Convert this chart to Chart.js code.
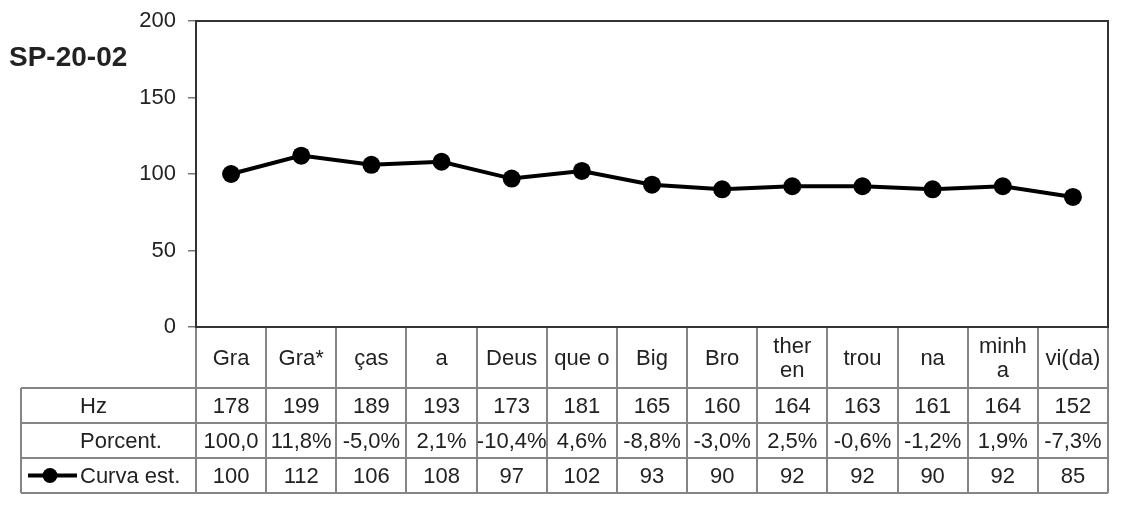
<!DOCTYPE html>
<html>
<head>
<meta charset="utf-8">
<script src="https://cdn.jsdelivr.net/npm/chart.js@4/dist/chart.umd.min.js"></script>
<style>
  html, body { margin: 0; padding: 0; background: #fff; }
  #wrap { width: 1121px; height: 510px; }
</style>
</head>
<body>
<div id="wrap"><canvas id="c" width="1121" height="510"></canvas></div>
<script>
const chartTitle = 'SP-20-02';
const categories = ['Gra', 'Gra*', 'ças', 'a', 'Deus', 'que o', 'Big', 'Bro', ['ther', 'en'], 'trou', 'na', ['minh', 'a'], 'vi(da)'];
const hzValues = [178, 199, 189, 193, 173, 181, 165, 160, 164, 163, 161, 164, 152];
const porcentValues = ['100,0', '11,8%', '-5,0%', '2,1%', '-10,4%', '4,6%', '-8,8%', '-3,0%', '2,5%', '-0,6%', '-1,2%', '1,9%', '-7,3%'];
const curvaValues = [100, 112, 106, 108, 97, 102, 93, 90, 92, 92, 90, 92, 85];
const rowLabels = ['Hz', 'Porcent.', 'Curva est.'];
const yMin = 0, yMax = 200, yStep = 50;

const FONT = '"Liberation Sans", Arial, sans-serif';
const TEXT = '#222';
const GRID = '#858585';
const FS = 22;

const tablePlugin = {
  id: 'tablePlugin',
  afterDraw(chart) {
    const ctx = chart.ctx;
    const a = chart.chartArea;
    const xs = chart.scales.x;
    const n = categories.length;
    const colW = (a.right - a.left) / n;
    const catTop = a.bottom;
    const rowTop = catTop + 61;
    const rowH = 35;
    const tableLeft = 21;
    ctx.save();

    // title
    ctx.fillStyle = TEXT;
    ctx.font = 'bold 28px ' + FONT;
    ctx.textAlign = 'left';
    ctx.textBaseline = 'middle';
    ctx.fillText(chartTitle, 9, 58);

    // grid lines of table
    ctx.strokeStyle = GRID;
    ctx.lineWidth = 2;
    ctx.beginPath();
    for (let i = 0; i <= n; i++) {
      const x = Math.round(a.left + i * colW);
      ctx.moveTo(x, catTop);
      ctx.lineTo(x, rowTop + 3 * rowH);
    }
    ctx.moveTo(tableLeft, rowTop);
    ctx.lineTo(tableLeft, rowTop + 3 * rowH);
    for (let r = 0; r <= 3; r++) {
      const y = rowTop + r * rowH;
      ctx.moveTo(tableLeft, y);
      ctx.lineTo(a.right, y);
    }
    ctx.stroke();

    // category labels
    ctx.fillStyle = TEXT;
    ctx.font = FS + 'px ' + FONT;
    ctx.textAlign = 'center';
    ctx.textBaseline = 'middle';
    const catMid = (catTop + rowTop) / 2 + 1;
    categories.forEach((c, i) => {
      const x = xs.getPixelForValue(i);
      if (Array.isArray(c)) {
        ctx.fillText(c[0], x, catMid - 12);
        ctx.fillText(c[1], x, catMid + 12);
      } else {
        ctx.fillText(c, x, catMid);
      }
    });

    // rows
    const rows = [hzValues, porcentValues, curvaValues];
    rows.forEach((vals, r) => {
      const y = rowTop + r * rowH + rowH / 2 + 1;
      vals.forEach((v, i) => {
        ctx.fillText(String(v), xs.getPixelForValue(i), y);
      });
    });

    // row labels
    ctx.textAlign = 'left';
    rowLabels.forEach((l, r) => {
      ctx.fillText(l, 80, rowTop + r * rowH + rowH / 2 + 1);
    });

    // legend key
    const ly = rowTop + 2 * rowH + rowH / 2;
    ctx.strokeStyle = '#000';
    ctx.lineWidth = 4;
    ctx.beginPath();
    ctx.moveTo(28, ly);
    ctx.lineTo(77, ly);
    ctx.stroke();
    ctx.fillStyle = '#000';
    ctx.beginPath();
    ctx.arc(50, ly, 7.5, 0, Math.PI * 2);
    ctx.fill();

    // plot frame
    ctx.strokeStyle = '#333';
    ctx.lineWidth = 2;
    ctx.strokeRect(a.left, a.top, a.right - a.left, a.bottom - a.top);
    ctx.restore();
  }
};

new Chart(document.getElementById('c'), {
  type: 'line',
  data: {
    labels: categories,
    datasets: [{
      label: rowLabels[2],
      data: curvaValues,
      borderColor: '#000',
      backgroundColor: '#000',
      borderWidth: 4,
      pointRadius: 9,
      pointBackgroundColor: '#000',
      pointBorderColor: '#000',
      pointBorderWidth: 0,
      tension: 0,
      clip: false
    }]
  },
  options: {
    responsive: false,
    animation: false,
    devicePixelRatio: 1,
    layout: { padding: { top: 21, right: 13, bottom: 183, left: 0 } },
    plugins: { legend: { display: false }, tooltip: { enabled: false }, title: { display: false } },
    scales: {
      x: { display: false, offset: true, grid: { display: false } },
      y: {
        min: yMin, max: yMax,
        afterFit(scale) { scale.width = 196; scale.paddingTop = 0; scale.paddingBottom = 0; },
        ticks: { stepSize: yStep, color: TEXT, font: { family: FONT, size: FS }, padding: 12 },
        grid: { drawOnChartArea: false, drawTicks: true, tickLength: 8, color: '#777', lineWidth: 1.5 },
        border: { display: true, color: '#000', width: 2 }
      }
    }
  },
  plugins: [tablePlugin]
});
</script>
</body>
</html>
